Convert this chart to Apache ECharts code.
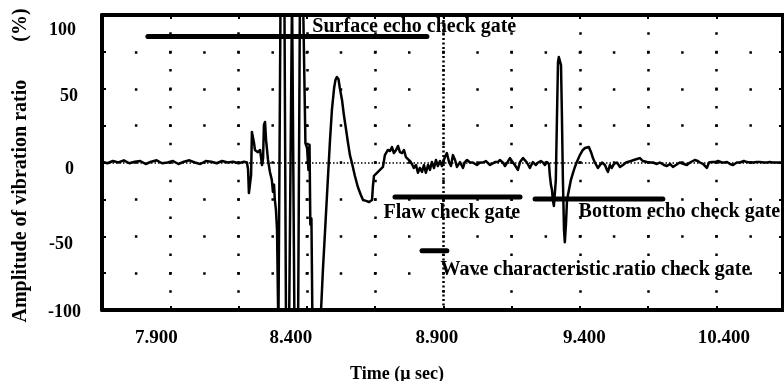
<!DOCTYPE html>
<html>
<head>
<meta charset="utf-8">
<script src="https://cdn.jsdelivr.net/npm/echarts@6/dist/echarts.min.js"></script>
<style>
  html, body { margin: 0; padding: 0; background: #fff; overflow: hidden; }
  #chart { width: 784px; height: 381px; }
</style>
</head>
<body>
<div id="chart"></div>
<script>
// Ultrasonic waveform: time (µs) and amplitude of vibration ratio (%)
const waveTime = [
  7.650, 7.670, 7.690, 7.710, 7.730, 7.750, 7.770, 7.790, 7.810, 7.830,
  7.850, 7.870, 7.890, 7.910, 7.930, 7.950, 7.970, 7.990, 8.010, 8.030,
  8.050, 8.070, 8.090, 8.110, 8.130, 8.150, 8.170,
  8.181, 8.185, 8.188, 8.192, 8.196, 8.199, 8.203, 8.207, 8.210, 8.221,
  8.229, 8.236, 8.240, 8.243, 8.247, 8.251, 8.258, 8.265, 8.272, 8.276,
  8.280, 8.283, 8.287, 8.291, 8.296, 8.300, 8.304, 8.318, 8.324, 8.335,
  8.346, 8.351, 8.355, 8.368, 8.375, 8.386, 8.395, 8.401, 8.406, 8.410,
  8.413, 8.417, 8.421, 8.446, 8.452, 8.459, 8.467, 8.474, 8.478, 8.485,
  8.492, 8.500, 8.505, 8.510, 8.516, 8.521, 8.529, 8.536, 8.543, 8.551,
  8.558, 8.565, 8.576, 8.587, 8.598, 8.606, 8.617, 8.628, 8.639, 8.642,
  8.646, 8.657, 8.668, 8.679, 8.686, 8.697, 8.705, 8.712, 8.719, 8.727,
  8.734, 8.741, 8.749, 8.756, 8.763, 8.770, 8.778, 8.785, 8.792, 8.800,
  8.807, 8.814, 8.822, 8.829, 8.836, 8.844, 8.851, 8.858, 8.866, 8.873,
  8.880, 8.888, 8.895, 8.902, 8.906, 8.913, 8.921, 8.928, 8.935, 8.943,
  8.950, 8.961, 8.972, 8.979, 8.987, 8.998, 9.008, 9.023, 9.034, 9.045,
  9.056, 9.063, 9.071, 9.078, 9.089, 9.100, 9.107, 9.118, 9.126, 9.133,
  9.144, 9.151, 9.162, 9.173, 9.181, 9.192, 9.206, 9.217, 9.228, 9.239,
  9.247, 9.257, 9.265, 9.272, 9.279, 9.287, 9.290, 9.294, 9.298, 9.301,
  9.305, 9.309, 9.312, 9.316, 9.320, 9.323, 9.327, 9.331, 9.334, 9.338,
  9.342, 9.345, 9.349, 9.353, 9.360, 9.367, 9.375, 9.382, 9.389, 9.400,
  9.411, 9.419, 9.426, 9.433, 9.441, 9.448, 9.455, 9.466, 9.474, 9.481,
  9.492, 9.499, 9.503, 9.510, 9.517, 9.525, 9.536, 9.547, 9.558, 9.569,
  9.576, 9.587, 9.598, 9.609, 9.620, 9.631, 9.646, 9.657, 9.668, 9.682,
  9.693, 9.708, 9.719, 9.730, 9.741, 9.752, 9.766, 9.781, 9.792, 9.803,
  9.810, 9.821, 9.832, 9.840, 9.851, 9.865, 9.873, 9.884, 9.895, 9.906,
  9.920, 9.931, 9.939, 9.950, 9.961, 9.975, 9.986, 10.001, 10.012, 10.023,
  10.034, 10.048, 10.059, 10.074, 10.085, 10.096, 10.107, 10.122, 10.133, 10.144
];
const waveAmp = [
  0.5, -0.5, 1, 0, 1.5, -0.5, 0.5, 1, -1, 0.5,
  1.5, -0.5, 0, 1, -1, 0.5, 1.5, 0, -1, 1,
  0.5, -0.5, 1, 0, 0.5, -0.5, 0.5,
  0, -5, -20.7, -21.4, -8.5, 20.7, 22, 13, 8.5, 7,
  8.5, -1.7, 3, 25.4, 27.5, 15, 1.7, -6.4, -11.9, -20,
  -15, -25.4, -32, -45.8, -115, -115, 115, 115, -115, -115,
  115, 115, -115, -115, 115, 115, 13, 10, -5, 12,
  -42, -38, -115, -115, -101, -73, -46, -22, -8.5, 15,
  35.6, 50.5, 56, 58, 56.6, 50.5, 42.4, 32, 23.4, 13.2,
  5, 0, -9, -16.6, -22, -25.4, -26, -26.8, -25.4, -16.6,
  -9, -7, -5, -3, 5, 8.5, 7.8, 10.5, 6.4, 8.5,
  11.2, 7, 6.4, 8.5, 3.7, 3, 1, -1, -3.7, -1.7,
  -7, -3.7, -6.4, -1.7, -7, -1.7, -5, 0.3, -3.7, 1.7,
  -2.4, 1, -2.4, 1.7, 3.7, 6.4, 0.3, -2.4, 5, 1.7,
  -3, 0.3, -3.7, 0.3, 1.7, 0, 0, -1.7, 0, 0,
  1, 0.3, -1.7, -1.7, 0.3, 0.3, 1.7, 0, -2.4, -3,
  3, 1, -1.7, -5, 0.3, 3, 0, -3.7, 0.3, -1.7,
  0, 1, 0, -1.7, 0.3, -1, -8.5, -15, -18.6, -25.4,
  -29.5, -28.8, -12, 28.8, 68, 71.5, 70.8, 66, 35.6, -12,
  -45.8, -54, -42.4, -25.4, -18.6, -12, -7, -3, 0.3, 5,
  8.5, 9.8, 8.5, 10.5, 7, 3, 0, -3.7, -1.7, 0,
  -1.7, -5, -6.4, -1.7, -3.7, -1, 0, -3, -1.7, 0,
  0.3, 1, 1.7, 2.4, 3, 1, 0.3, 0, 0, -1,
  0, -1.7, -2.4, -1, -3, -1.7, 0, -1, -1.7, 0,
  0.3, 1.7, 1, 0, -1, -3.7, 0, 0.3, 0.3, 1,
  0, 0, 0.3, -1, -1.7, 0, 0, 1, 0.3, 0,
  0, 0.3, 0.3, 0, 0, 0.3, 0, 0, 0, 0
];

// Check gates: name, start / end time (µs), level (%)
const gateNames = ['Surface echo check gate', 'Flaw check gate', 'Bottom echo check gate', 'Wave characteristic ratio check gate'];
const gateStart = [7.818, 8.723, 9.236, 8.822];
const gateEnd   = [8.840, 9.181, 9.704, 8.913];
const gateLevel = [85.4, -23.4, -24.7, -59.8];

// Axis ranges and tick labels
const timeMin = 7.65, timeMax = 10.144, timeStep = 0.25;
const ampMin = -100, ampMax = 100, ampStep = 25;
const timeTickValues = [7.9, 8.4, 8.9, 9.4, 9.9];
const timeTickLabels = ['7.900', '8.400', '8.900', '9.400', '10.400'];
const ampTickLabels = ['100', '50', '0', '-50', '-100'];
const markerTime = 8.9;
const zeroLevel = 0;

const SERIF = "'Liberation Serif', 'Times New Roman', serif";
const BLACK = '#000';

// per-label nudges for the hand-set tick text
const timeLabelPad = [[0, 28, 0, 0], [0, 32, 0, 0], [0, 13, 0, 0], [0, 0, 0, 9], [0, 0, 0, 15]];
const ampLabelPad = { '100': [30, 5, 0, 0], '50': [16, 3, 0, 0], '0': [13, 7, 0, 0], '-50': [16, 8, 0, 0], '-100': [4, 0, 0, 0] };

const timeRich = {};
timeLabelPad.forEach((p, i) => {
  timeRich['t' + i] = { fontFamily: SERIF, fontWeight: 'bold', fontSize: 19, color: BLACK, padding: p };
});
const ampRich = {};
ampTickLabels.forEach((s, i) => {
  ampRich['a' + i] = { fontFamily: SERIF, fontWeight: 'bold', fontSize: 18, color: BLACK, padding: ampLabelPad[s] };
});

const gateLabelOffset = [[164, -10], [-12, 16], [43, 13], [18, 19]];

const waveData = waveTime.map((t, i) => [t, waveAmp[i]]);

const gateSeries = gateNames.map((name, i) => ({
  type: 'line',
  name: name,
  data: [
    {
      value: [gateStart[i], gateLevel[i]],
      label: {
        show: true,
        position: 'right',
        distance: 0,
        offset: gateLabelOffset[i],
        formatter: name,
        fontFamily: SERIF,
        fontWeight: 'bold',
        fontSize: 20,
        color: BLACK
      }
    },
    [gateEnd[i], gateLevel[i]]
  ],
  symbol: 'rect',
  symbolSize: 1,
  showSymbol: true,
  itemStyle: { color: BLACK },
  lineStyle: { color: BLACK, width: 5, cap: 'round' },
  label: { show: false },
  z: 4,
  silent: true
}));

const chart = echarts.init(document.getElementById('chart'), null, { renderer: 'canvas' });

chart.setOption({
  animation: false,
  backgroundColor: '#fff',
  grid: { left: 102, right: 1, top: 15, bottom: 71, containLabel: false, outerBoundsMode: 'none' },
  xAxis: [
    {
      type: 'value',
      position: 'bottom',
      min: timeMin,
      max: timeMax,
      interval: timeStep,
      name: 'Time (\u03bc sec)',
      nameLocation: 'middle',
      nameGap: 55,
      nameTextStyle: { fontFamily: SERIF, fontWeight: 'bold', fontSize: 18, color: BLACK, padding: [0, 91, 0, 0] },
      axisLine: { show: true, onZero: false, lineStyle: { color: BLACK, width: 4 } },
      axisTick: { show: true, inside: true, length: 4, lineStyle: { color: BLACK, width: 2 } },
      axisLabel: {
        show: true,
        margin: 19,
        formatter: function (v) {
          for (let i = 0; i < timeTickValues.length; i++) {
            if (Math.abs(v - timeTickValues[i]) < 1e-6) return '{t' + i + '|' + timeTickLabels[i] + '}';
          }
          return '';
        },
        rich: timeRich,
        showMinLabel: false,
        showMaxLabel: false
      },
      splitLine: {
        show: true,
        lineStyle: { color: BLACK, width: 2.5, type: [2.5, 15.94], dashOffset: 1.25 }
      }
    },
    {
      type: 'value',
      position: 'top',
      min: timeMin,
      max: timeMax,
      interval: timeStep,
      axisLine: { show: true, onZero: false, lineStyle: { color: BLACK, width: 4 } },
      axisTick: { show: true, inside: true, length: 4, lineStyle: { color: BLACK, width: 2 } },
      axisLabel: { show: false },
      splitLine: { show: false }
    }
  ],
  yAxis: [
    {
      type: 'value',
      position: 'left',
      min: ampMin,
      max: ampMax,
      interval: ampStep,
      name: '{n|Amplitude of vibration ratio}{u|(%)}',
      nameLocation: 'middle',
      nameRotate: 90,
      nameGap: 71,
      nameTextStyle: {
        rich: {
          n: { fontFamily: SERIF, fontWeight: 'bold', fontSize: 20, color: BLACK },
          u: { fontFamily: SERIF, fontWeight: 'bold', fontSize: 20, color: BLACK, padding: [0, 6, 0, 38] }
        }
      },
      axisLine: { show: true, onZero: false, lineStyle: { color: BLACK, width: 4 } },
      axisTick: { show: true, inside: true, length: 4, lineStyle: { color: BLACK, width: 2 } },
      axisLabel: {
        show: true,
        interval: 1,
        margin: 21,
        formatter: function (v) {
          const s = String(Math.round(v));
          const i = ampTickLabels.indexOf(s);
          return i >= 0 ? '{a' + i + '|' + s + '}' : '';
        },
        rich: ampRich
      },
      splitLine: {
        show: true,
        lineStyle: { color: BLACK, width: 2.5, type: [2.5, 31.64], dashOffset: 1.25 }
      }
    },
    {
      type: 'value',
      position: 'right',
      min: ampMin,
      max: ampMax,
      interval: ampStep,
      axisLine: { show: true, onZero: false, lineStyle: { color: BLACK, width: 4 } },
      axisTick: { show: true, inside: true, length: 4, lineStyle: { color: BLACK, width: 2 } },
      axisLabel: { show: false },
      splitLine: { show: false }
    }
  ],
  series: [
    {
      type: 'line',
      name: 'waveform',
      data: waveData,
      showSymbol: false,
      symbol: 'none',
      clip: true,
      lineStyle: { color: BLACK, width: 2.5, join: 'round' },
      z: 3,
      silent: true,
      markLine: {
        silent: true,
        symbol: 'none',
        label: { show: false },
        data: [
          { yAxis: zeroLevel, lineStyle: { color: BLACK, width: 1.5, type: [1.5, 2] } },
          { xAxis: markerTime, lineStyle: { color: BLACK, width: 2.5, type: [2, 2.5] } }
        ]
      }
    }
  ].concat(gateSeries)
});
</script>
</body>
</html>
